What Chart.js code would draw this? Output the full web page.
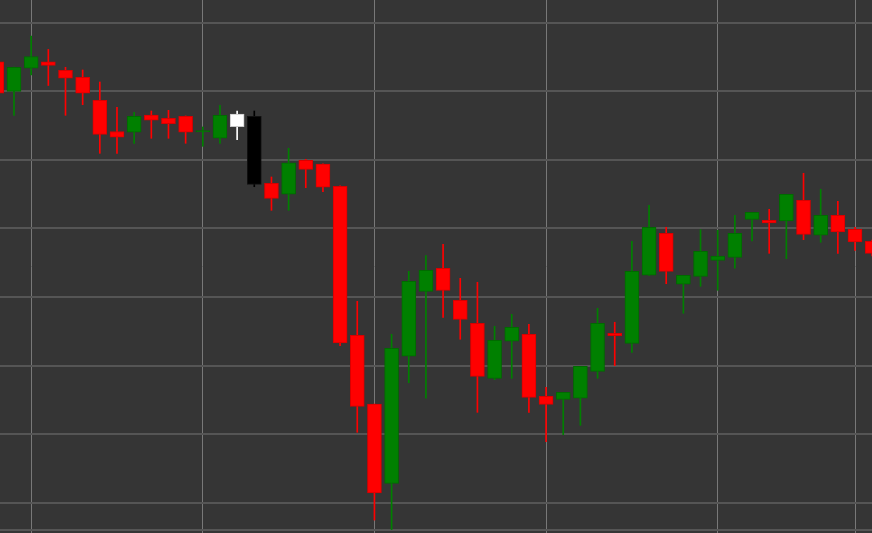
<!DOCTYPE html>
<html>
<head>
<meta charset="utf-8">
<script src="https://cdn.jsdelivr.net/npm/chart.js@4.4.1/dist/chart.umd.min.js"></script>
<style>
  html, body { margin: 0; padding: 0; background: #353535; overflow: hidden; }
  canvas { display: block; }
</style>
</head>
<body>
<canvas id="priceChart" width="872" height="533"></canvas>
<script>
// OHLC per session (arbitrary price units)
const open = [164.27, 159.99, 163.35, 164.27, 163.05, 162.03, 158.68, 154.13, 154.02, 156.54,
  156.06, 156.35, 154.06, 153.14, 154.83, 156.35, 146.58, 144.98, 149.93, 149.39,
  146.14, 124.42, 114.40, 102.84, 121.36, 130.83, 134.19, 129.52, 126.17, 118.15,
  123.55, 124.57, 115.53, 115.09, 115.24, 119.17, 124.71, 123.25, 133.17, 139.29,
  131.86, 133.02, 135.35, 135.79, 141.33, 141.19, 141.08, 144.10, 139.00, 141.91,
  139.87, 138.12];
const high = [164.56, 163.53, 168.05, 166.09, 163.49, 163.10, 161.35, 157.66, 156.93, 157.12,
  157.22, 156.40, 154.79, 157.95, 157.12, 157.12, 147.50, 151.68, 150.08, 149.40,
  146.20, 129.38, 114.40, 124.57, 133.75, 136.03, 137.69, 132.73, 132.15, 125.73,
  127.48, 126.02, 116.84, 116.11, 119.90, 128.36, 126.32, 138.12, 143.37, 140.17,
  133.17, 139.82, 139.73, 141.91, 142.35, 142.79, 144.98, 148.04, 145.71, 143.96,
  140.17, 138.31];
const low = [159.31, 156.49, 162.37, 160.84, 156.49, 158.04, 150.95, 150.95, 152.41, 153.14,
  153.14, 152.41, 151.97, 152.41, 152.94, 146.08, 142.64, 142.64, 145.94, 145.36,
  122.90, 110.28, 97.49, 96.10, 117.51, 115.24, 127.04, 123.84, 113.19, 117.95,
  118.15, 113.19, 108.91, 109.93, 111.30, 118.15, 119.99, 121.94, 133.15, 131.94,
  127.63, 131.56, 130.98, 134.19, 138.17, 136.37, 135.59, 138.36, 137.98, 136.37,
  136.81, 135.98];
const close = [159.70, 163.49, 165.07, 163.78, 161.89, 159.70, 153.72, 153.29, 156.35, 155.77,
  155.27, 154.02, 154.28, 156.49, 156.68, 146.43, 144.39, 149.58, 148.62, 146.00,
  123.30, 114.07, 101.43, 122.52, 132.29, 133.90, 130.98, 126.75, 118.44, 123.69,
  125.59, 115.38, 114.36, 116.11, 119.90, 126.17, 124.36, 133.75, 140.17, 133.75,
  133.17, 136.67, 135.98, 139.29, 142.35, 140.79, 144.98, 139.14, 141.91, 139.48,
  138.02, 136.37];

// grid positions: price levels and session indexes
const priceLines = [96.03, 100, 110, 120, 130, 140, 150, 160, 170];
const timeLines = [2, 12, 22, 32, 42, 50];

// two sessions drawn in the highlight (white / black) style
const marked = [14, 15];

const sessions = open.map((_, i) => i);

function isUp(i) {
  return close[i] >= open[i];
}
function fillColor(i) {
  if (marked.includes(i)) return isUp(i) ? '#ffffff' : '#000000';
  return isUp(i) ? '#008000' : '#ff0000';
}
function edgeColor(i) {
  if (marked.includes(i)) return isUp(i) ? '#c8c8c8' : '#111111';
  return isUp(i) ? '#006a00' : '#d80000';
}

const ctx = document.getElementById('priceChart').getContext('2d');
const priceChart = new Chart(ctx, {
  type: 'bar',
  data: {
    datasets: [
      {
        label: 'Body',
        data: sessions.map((i) => ({ x: i, y: [open[i], close[i]] })),
        backgroundColor: sessions.map(fillColor),
        borderColor: sessions.map(edgeColor),
        borderWidth: 1,
        borderSkipped: false,
        barThickness: 14,
        grouped: false,
      },
      {
        label: 'Wick',
        data: sessions.map((i) => ({ x: i, y: [low[i], high[i]] })),
        backgroundColor: sessions.map(fillColor),
        borderWidth: 0,
        barThickness: 1,
        grouped: false,
      },
    ],
  },
  options: {
    responsive: false,
    animation: false,
    events: [],
    layout: { padding: 0 },
    scales: {
      x: {
        type: 'linear',
        min: 0.184,
        max: 50.99,
        offset: false,
        afterBuildTicks: (scale) => {
          scale.ticks = timeLines.map((v) => ({ value: v }));
        },
        grid: {
          color: '#787878',
          lineWidth: 1,
          drawTicks: false,
          offset: false,
        },
        border: { display: false },
        ticks: { display: false },
      },
      y: {
        type: 'linear',
        min: 95.6,
        max: 173.3,
        afterBuildTicks: (scale) => {
          scale.ticks = priceLines.map((v) => ({ value: v }));
        },
        grid: {
          color: '#555555',
          lineWidth: 2,
          drawTicks: false,
        },
        border: { display: false },
        ticks: { display: false },
      },
    },
    plugins: {
      legend: { display: false },
      tooltip: { enabled: false },
    },
  },
});
</script>
</body>
</html>
